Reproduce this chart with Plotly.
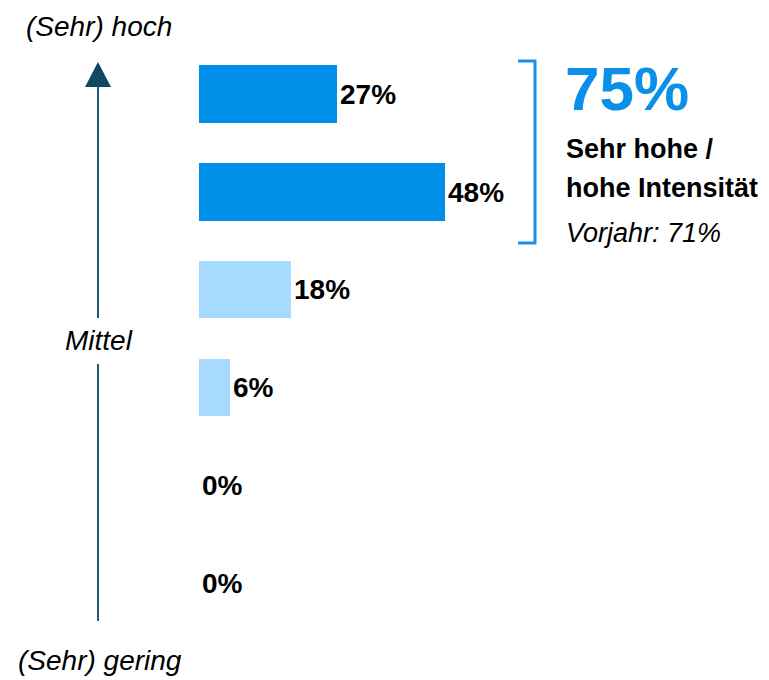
import plotly.graph_objects as go

# ---- data ----
levels = ["Sehr hoch", "Hoch", "Eher hoch", "Eher gering", "Gering", "Sehr gering"]
values = [27, 48, 18, 6, 0, 0]
labels = ["27%", "48%", "18%", "6%", "0%", "0%"]
bar_colors = ["#008FE8", "#008FE8", "#A6DBFF", "#A6DBFF", "#A6DBFF", "#A6DBFF"]
positions = [5, 4, 3, 2, 1, 0]
summary_value = "75%"
summary_label = ["Sehr hohe /", "hohe Intensität"]
previous_year = "Vorjahr: 71%"
axis_top = "(Sehr) hoch"
axis_mid = "Mittel"
axis_bottom = "(Sehr) gering"

OFF = 8  # page body margin
W, H = 769 - OFF, 680 - OFF
L, R, T, B = 199 - OFF, 58, 45 - OFF, 48
PW, PH = W - L - R, H - T - B

def px(x):
    return (x - OFF - L) / PW

def py(y):
    return (H - B - (y - OFF)) / PH

FONT = "Liberation Sans, Arial, sans-serif"

fig = go.Figure(go.Bar(
    x=values, y=positions, orientation="h",
    marker=dict(color=bar_colors, line=dict(width=0)),
    width=0.59,
    text=labels, textposition="outside",
    textfont=dict(family=FONT, size=28, color="#000000", weight="bold"),
    cliponaxis=False, hoverinfo="skip",
))

ann = []
def add(text, x, y, size, xanchor="center", bold=False, italic=False, color="#000000"):
    t = text
    if bold:
        t = "<b>" + t + "</b>"
    if italic:
        t = "<i>" + t + "</i>"
    ann.append(dict(text=t, x=px(x), y=py(y), xref="paper", yref="paper",
                    xanchor=xanchor, yanchor="middle", showarrow=False,
                    font=dict(family=FONT, size=size, color=color)))

add(axis_top, 99, 27, 28, italic=True)
add(axis_mid, 99, 341, 28, italic=True)
add(axis_bottom, 100, 660, 28, italic=True)
add(summary_value, 563, 89, 62, xanchor="left", bold=True, color="#0A90E8")
add(summary_label[0], 564, 149, 27, xanchor="left", bold=True)
add(summary_label[1], 564, 188, 27, xanchor="left", bold=True)
add(previous_year, 564, 233, 27, xanchor="left", italic=True)

line_col = "#1D5B77"
shapes = [
    dict(type="line", xref="paper", yref="paper", x0=px(98), x1=px(98), y0=py(86), y1=py(318),
         line=dict(color=line_col, width=2)),
    dict(type="line", xref="paper", yref="paper", x0=px(98), x1=px(98), y0=py(364), y1=py(621),
         line=dict(color=line_col, width=2)),
    dict(type="path", xref="paper", yref="paper",
         path=f"M {px(98)},{py(62)} L {px(111)},{py(87)} L {px(85)},{py(87)} Z",
         fillcolor="#0D4A62", line=dict(width=0)),
    dict(type="path", xref="paper", yref="paper",
         path=f"M {px(518)},{py(61)} L {px(535)},{py(61)} L {px(535)},{py(243)} L {px(518)},{py(243)}",
         line=dict(color="#1A8FE3", width=3)),
]

fig.update_layout(
    width=W, height=H,
    margin=dict(l=L, r=R, t=T, b=B),
    plot_bgcolor="white", paper_bgcolor="white",
    xaxis=dict(range=[0, 100], visible=False, fixedrange=True),
    yaxis=dict(range=[-0.5, 5.5], visible=False, fixedrange=True),
    showlegend=False,
    annotations=ann, shapes=shapes,
    bargap=0,
)

fig.write_html("out.html")
